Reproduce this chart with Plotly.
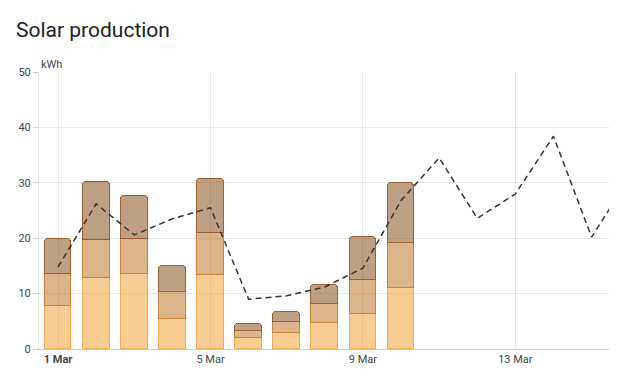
import plotly.graph_objects as go

days = ["2024-03-%02d" % d for d in range(1, 11)]
source_a = [7.8, 12.8, 13.5, 5.5, 13.3, 2.0, 2.95, 4.75, 6.4, 11.0]
source_b = [5.8, 6.9, 6.4, 4.7, 7.6, 1.25, 1.95, 3.45, 6.05, 8.2]
source_c = [6.3, 10.5, 7.7, 4.8, 9.7, 1.35, 1.8, 3.35, 7.7, 10.8]

forecast_days = ["2024-03-%02d" % d for d in range(1, 17)]
forecast = [14.8, 26.2, 20.6, 23.5, 25.5, 9.0, 9.6, 11.2, 14.6, 26.8,
            34.5, 23.6, 28.0, 38.4, 20.2, 31.0]

tick_vals = ["2024-03-01", "2024-03-05", "2024-03-09", "2024-03-13"]
tick_text = ["<b>1 Mar</b>", "5 Mar", "9 Mar", "13 Mar"]

DAY = 86400000
fig = go.Figure()
styles = [
    (source_a, "rgba(239,155,41,0.5)", "rgb(242,170,80)"),
    (source_b, "rgba(185,105,25,0.5)", "rgb(205,130,55)"),
    (source_c, "rgba(129,65,11,0.5)", "rgb(155,95,50)"),
]
for vals, fill, edge in styles:
    fig.add_trace(go.Bar(
        x=days, y=vals, width=0.7 * DAY,
        marker=dict(color=fill, line=dict(color=edge, width=1.2), cornerradius=4),
        showlegend=False,
    ))

fig.add_trace(go.Scatter(
    x=forecast_days, y=forecast, mode="lines",
    line=dict(color="#333333", width=1.5, dash="6px,4px"),
    showlegend=False,
))

# page has an 8px body margin: keep the figure inside the viewport without scrollbars
fig.update_layout(
    width=609, height=365,
    barmode="stack",
    bargap=0,
    paper_bgcolor="white", plot_bgcolor="white",
    margin=dict(l=31, r=0, t=64, b=24),
    font=dict(family="Roboto", size=11, color="#555555"),
    xaxis=dict(
        type="date",
        range=["2024-02-29 12:00", "2024-03-15 16:00"],
        tickvals=tick_vals, ticktext=tick_text,
        showgrid=True, gridcolor="#e6e6e6", gridwidth=1,
        showline=True, linecolor="#cccccc", linewidth=1,
        ticks="", tickfont=dict(size=11, color="#444444"),
        zeroline=False, fixedrange=True,
    ),
    yaxis=dict(
        range=[0, 50], tickvals=[0, 10, 20, 30, 40, 50],
        showgrid=True, gridcolor="#e6e6e6", gridwidth=1,
        showline=True, linecolor="#e6e6e6", linewidth=1,
        ticks="outside", ticklen=5, tickcolor="#cccccc",
        tickfont=dict(size=11, color="#444444"),
        zeroline=False,
    ),
    shapes=[dict(
        type="path", xref="paper", yref="paper",
        path="M -0.0475 1.27 L 1.05 1.27 L 1.05 -0.112 L -0.0475 -0.112 "
             "Q -0.0657 -0.112 -0.0657 -0.076 L -0.0657 1.234 Q -0.0657 1.27 -0.0475 1.27 Z",
        line=dict(color="#e0e0e0", width=1),
        layer="below",
    )],
    annotations=[
        dict(text="Solar production", xref="paper", yref="paper",
             x=-0.044, y=1.152, xanchor="left", yanchor="middle",
             showarrow=False, font=dict(family="Roboto", size=21, color="#212121")),
        dict(text="kWh", xref="paper", yref="paper",
             x=0.0, y=1.028, xanchor="left", yanchor="middle",
             showarrow=False, font=dict(family="Roboto", size=11, color="#444444")),
    ],
)

fig.write_html("out.html")
